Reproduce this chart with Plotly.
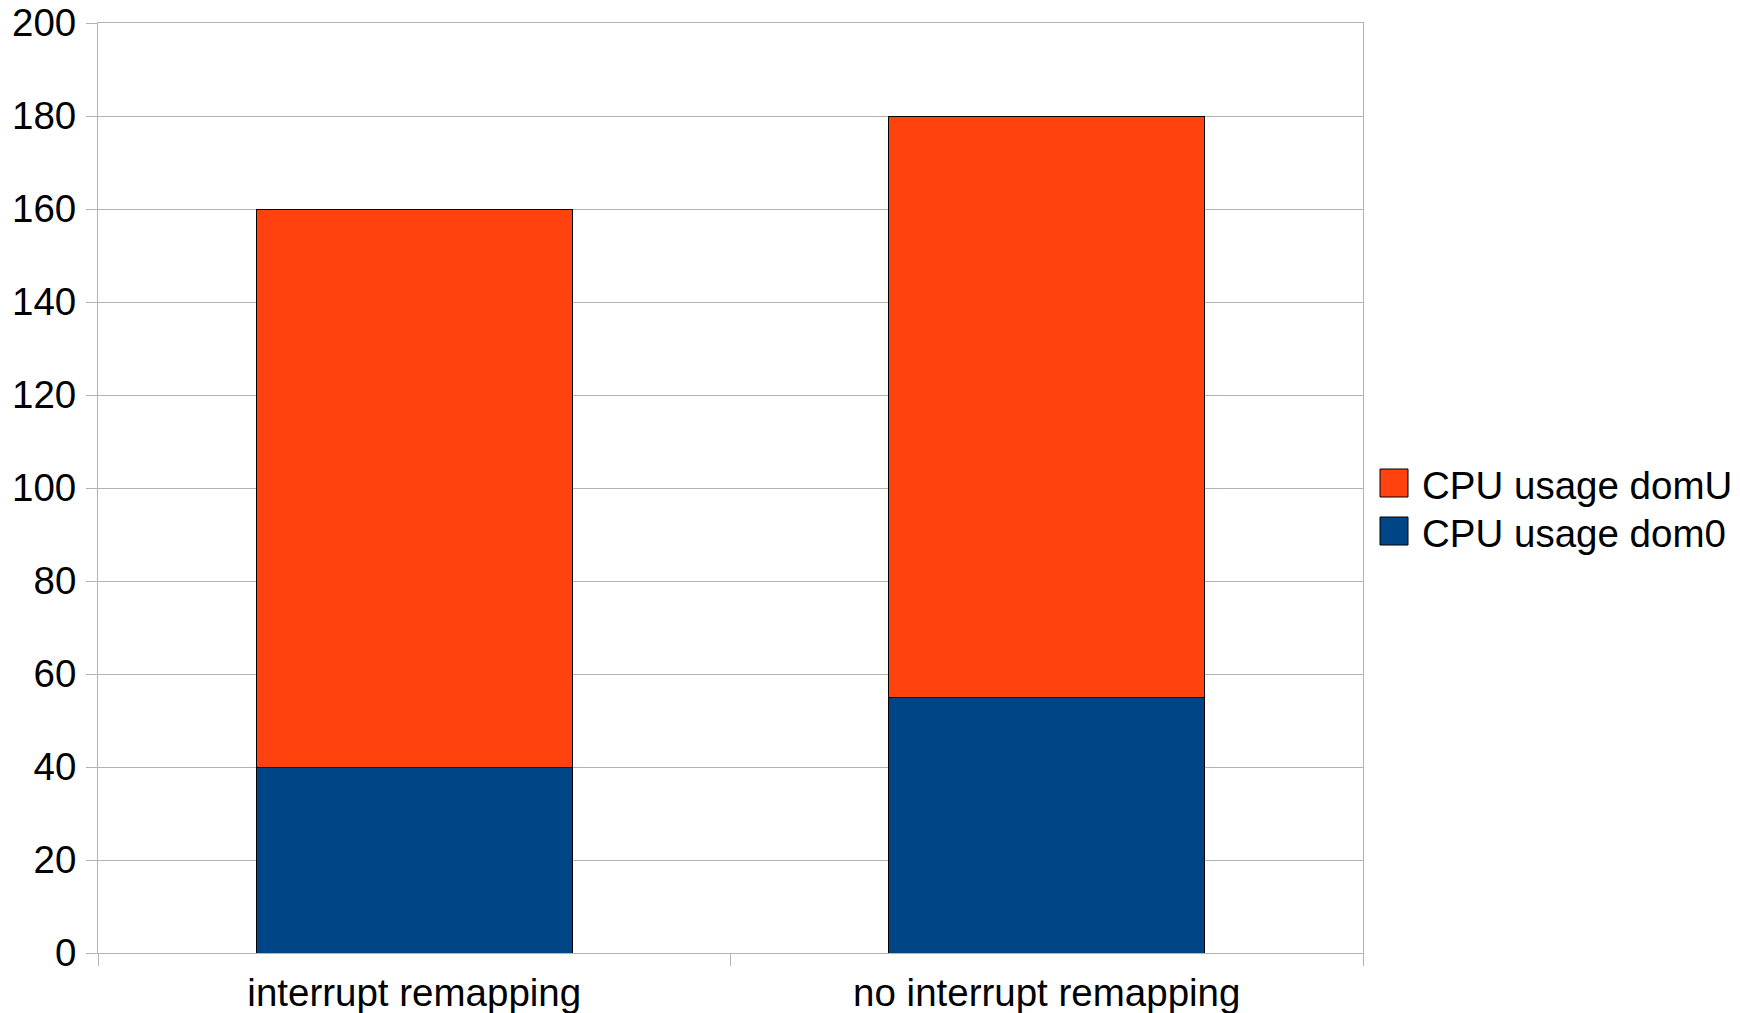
import plotly.graph_objects as go

# Categories and stacked series values
categories = ["interrupt remapping", "no interrupt remapping"]
dom0_usage = [40, 55]
domu_usage = [120, 125]
series_names = ["CPU usage dom0", "CPU usage domU"]
series_colors = ["#004586", "#ff420e"]
y_ticks = list(range(0, 201, 20))

W, H = 1740, 1013
M_L, M_R, M_T, M_B = 98, 377, 23, 60
FONT = "Liberation Sans, Arial, sans-serif"
FS = 38.5
GRID = "#b3b3b3"

fig = go.Figure()
for name, vals, col in [(series_names[0], dom0_usage, series_colors[0]),
                        (series_names[1], domu_usage, series_colors[1])]:
    fig.add_trace(go.Bar(
        x=categories, y=vals, name=name, width=0.5,
        marker=dict(color=col, line=dict(color="#000000", width=1)),
        showlegend=False,
    ))

# Legend drawn as swatches + labels to the right of the plot area
plot_w = W - M_L - M_R
plot_h = H - M_T - M_B


def px_x(px):
    return (px - M_L) / plot_w


def px_y(py):
    return (H - M_B - py) / plot_h


legend_items = [(series_names[1], series_colors[1]), (series_names[0], series_colors[0])]
shapes = []
annotations = []
for i, (name, col) in enumerate(legend_items):
    top = 469 + i * 48
    shapes.append(dict(type="rect", xref="paper", yref="paper",
                       x0=px_x(1380), x1=px_x(1408), y0=px_y(top + 28), y1=px_y(top),
                       fillcolor=col, line=dict(color="#000000", width=1)))
    annotations.append(dict(xref="paper", yref="paper", x=px_x(1420), y=px_y(top + 16),
                            text=name, showarrow=False, xanchor="left", yanchor="middle",
                            font=dict(family=FONT, size=FS, color="#000000")))

fig.update_layout(
    width=W, height=H,
    margin=dict(l=M_L, r=M_R, t=M_T, b=M_B),
    barmode="stack",
    plot_bgcolor="#ffffff", paper_bgcolor="#ffffff",
    font=dict(family=FONT, size=FS, color="#000000"),
    shapes=shapes,
    annotations=annotations,
    xaxis=dict(
        type="category", tickson="boundaries", ticks="outside", ticklen=12,
        tickcolor=GRID, tickwidth=1, showgrid=False, automargin=False,
        showline=True, linecolor=GRID, linewidth=1, mirror=True,
        tickfont=dict(family=FONT, size=FS, color="#000000"),
        ticklabelstandoff=6,
        range=[-0.5, 1.5],
    ),
    yaxis=dict(
        range=[0, 200], tickvals=y_ticks, ticks="outside", ticklen=11,
        tickcolor=GRID, tickwidth=1, showgrid=True, gridcolor=GRID, gridwidth=1,
        showline=True, linecolor=GRID, linewidth=1, mirror=True, automargin=False,
        zeroline=False, ticklabelstandoff=2,
        tickfont=dict(family=FONT, size=FS, color="#000000"),
    ),
)

fig.write_html("out.html")
